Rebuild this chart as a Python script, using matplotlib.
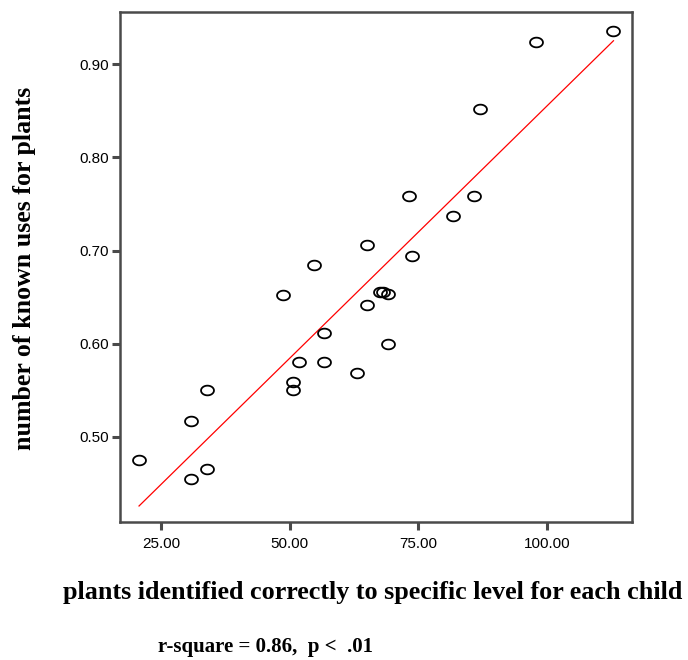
import matplotlib.pyplot as plt
from matplotlib.path import Path
import numpy as np

# plantas identificadas corretamente (nivel especifico) e numero de usos conhecidos, por crianca
plants_identified = [20.7, 30.8, 30.8, 34.0, 34.0, 48.6, 50.7, 50.7, 51.8, 54.7, 56.6, 56.6, 63.0,
                     65.0, 65.0, 67.6, 68.2, 69.1, 69.1, 73.1, 73.7, 81.8, 85.8, 87.0, 97.8, 112.9]
known_uses = [0.475, 0.455, 0.517, 0.466, 0.550, 0.6525, 0.5585, 0.550, 0.580, 0.684, 0.611, 0.580, 0.569,
              0.642, 0.706, 0.655, 0.655, 0.653, 0.600, 0.7587, 0.694, 0.7365, 0.7587, 0.8515, 0.9236, 0.935]

x_ticks = [25, 50, 75, 100]
y_ticks = [0.50, 0.60, 0.70, 0.80, 0.90]
x_label = 'plants identified correctly to specific level for each child'
y_label = 'number of known uses for plants'
stats_note = 'r-square = 0.86,  p <  .01'

frame_color = '#4a4a4a'

# marcador eliptico (mais largo que alto), como no grafico do SPSS
theta = np.linspace(0, 2 * np.pi, 60)
ellipse = Path(np.column_stack([np.cos(theta), 0.75 * np.sin(theta)]), closed=True)

fig = plt.figure(figsize=(6.88, 6.60), dpi=100)
ax = fig.add_axes([0.1744, 0.2091, 0.7442, 0.7727])

ax.plot(plants_identified, known_uses, linestyle='none', marker=ellipse, markersize=9.3,
        markerfacecolor='none', markeredgecolor='black', markeredgewidth=1.3, zorder=3)

# reta de regressao linear ajustada aos dados
slope, intercept = np.polyfit(plants_identified, known_uses, 1)
xs = np.array([min(plants_identified), max(plants_identified)])
ax.plot(xs, intercept + slope * xs, color='red', linewidth=0.9, zorder=2)

ax.set_xlim(17.0, 116.5)
ax.set_ylim(0.4088, 0.9558)
ax.set_xticks(x_ticks)
ax.set_xticklabels([f'{t:.2f}' for t in x_ticks])
ax.set_yticks(y_ticks)
ax.set_yticklabels([f'{t:.2f}' for t in y_ticks])

for spine in ax.spines.values():
    spine.set_color(frame_color)
    spine.set_linewidth(1.8)
ax.tick_params(axis='both', direction='out', length=6, width=2.2, color=frame_color,
               labelsize=11, labelcolor='black')
ax.tick_params(axis='x', pad=5)
ax.tick_params(axis='y', pad=2)
for lab in ax.get_xticklabels() + ax.get_yticklabels():
    lab.set_family(['Liberation Sans', 'DejaVu Sans'])

serif = ['Liberation Serif', 'DejaVu Serif']
fig.text(0.541, 0.103, x_label, ha='center', va='center', fontsize=18.8,
         fontweight='bold', family=serif)
fig.text(0.036, 0.594, y_label, ha='center', va='center', rotation=90, fontsize=18.6,
         fontweight='bold', family=serif)
fig.text(0.229, 0.020, stats_note, ha='left', va='center', fontsize=15,
         fontweight='bold', family=serif)

plt.savefig('out.png', dpi=100)
